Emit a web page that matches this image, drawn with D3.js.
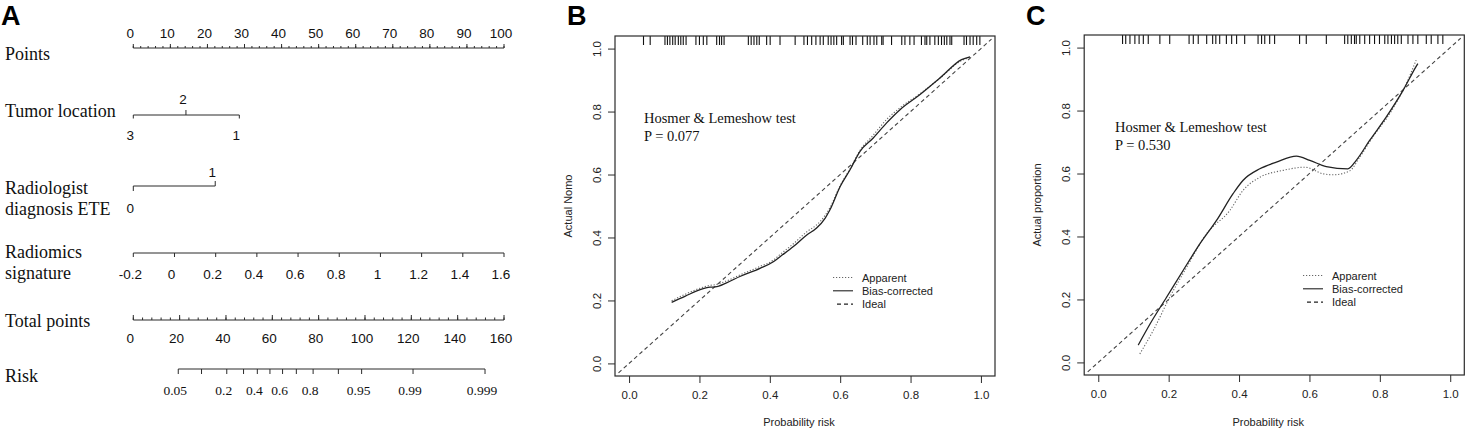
<!DOCTYPE html>
<html>
<head>
<meta charset="utf-8">
<script src="https://cdn.jsdelivr.net/npm/d3@7"></script>
<style>
  body { margin: 0; background: #fff; }
  svg { display: block; }
  .serif { font-family: "Liberation Serif", "Times New Roman", serif; }
  .sans { font-family: "Liberation Sans", Arial, sans-serif; }
</style>
</head>
<body>
<svg width="1465" height="431"></svg>
<script>
// ---------- panel A: nomogram
const pointsLabels = [0, 10, 20, 30, 40, 50, 60, 70, 80, 90, 100]
const tumorLevels = ["3", "2", "1"]
const tumorPoints = [0, 14.2, 28.6]
const eteLevels = ["0", "1"]
const etePoints = [0, 22.1]
const radiomicsTicks = [-0.2, 0, 0.2, 0.4, 0.6, 0.8, 1, 1.2, 1.4, 1.6]
const totalLabels = [0, 20, 40, 60, 80, 100, 120, 140, 160]
const riskTicks = [0.05, 0.1, 0.2, 0.3, 0.4, 0.5, 0.6, 0.7, 0.8, 0.9, 0.95, 0.99, 0.999]
const riskLabels = [0.05, 0.2, 0.4, 0.6, 0.8, 0.95, 0.99, 0.999]
const RISK_INTERCEPT = -4.388
const RISK_SLOPE = 0.0744

// ---------- panel B: calibration, training
const probB = [0.121, 0.16, 0.202, 0.23, 0.245, 0.277, 0.315, 0.372, 0.41, 0.429, 0.467, 0.505, 0.533,
  0.557, 0.571, 0.6, 0.628, 0.656, 0.694, 0.732, 0.77, 0.827, 0.884, 0.945, 0.969]
const biasB = [0.194, 0.214, 0.234, 0.242, 0.243, 0.256, 0.276, 0.302, 0.323, 0.339, 0.371, 0.408, 0.43,
  0.461, 0.488, 0.562, 0.615, 0.673, 0.716, 0.764, 0.806, 0.854, 0.907, 0.965, 0.974]
const apparentB = [0.199, 0.22, 0.239, 0.248, 0.25, 0.262, 0.281, 0.308, 0.328, 0.346, 0.38, 0.418, 0.44,
  0.47, 0.495, 0.565, 0.618, 0.676, 0.725, 0.775, 0.812, 0.857, 0.906, 0.962, 0.972]
const rugB = [0.041, 0.06, 0.102, 0.109, 0.116, 0.124, 0.131, 0.14, 0.147, 0.154, 0.162, 0.19, 0.2, 0.211,
  0.221, 0.249, 0.257, 0.263, 0.27, 0.339, 0.347, 0.355, 0.363, 0.37, 0.391, 0.401, 0.429, 0.472, 0.497,
  0.507, 0.519, 0.531, 0.543, 0.552, 0.566, 0.574, 0.582, 0.59, 0.604, 0.609, 0.628, 0.635, 0.645, 0.664,
  0.677, 0.685, 0.696, 0.704, 0.718, 0.722, 0.746, 0.775, 0.784, 0.798, 0.81, 0.831, 0.841, 0.846, 0.855,
  0.869, 0.879, 0.888, 0.896, 0.903, 0.912, 0.917, 0.952, 0.959, 0.969, 0.978, 0.988, 0.997]

// ---------- panel C: calibration, validation
const probBiasC = [0.1135, 0.147, 0.194, 0.241, 0.289, 0.336, 0.383, 0.411, 0.459, 0.506, 0.563, 0.601,
  0.648, 0.709, 0.733, 0.771, 0.818, 0.866, 0.902, 0.908]
const biasC = [0.055, 0.122, 0.207, 0.292, 0.377, 0.451, 0.536, 0.578, 0.615, 0.636, 0.655, 0.642,
  0.622, 0.615, 0.642, 0.705, 0.779, 0.864, 0.938, 0.949]
const probAppC = [0.118, 0.156, 0.203, 0.251, 0.307, 0.374, 0.411, 0.459, 0.525, 0.587, 0.639, 0.667,
  0.714, 0.743, 0.78, 0.828, 0.875, 0.903]
const apparentC = [0.027, 0.101, 0.207, 0.302, 0.408, 0.483, 0.546, 0.588, 0.61, 0.62, 0.599, 0.596,
  0.608, 0.652, 0.716, 0.79, 0.885, 0.96]
const rugC = [0.069, 0.078, 0.09, 0.104, 0.116, 0.128, 0.142, 0.175, 0.203, 0.258, 0.27, 0.284, 0.308,
  0.325, 0.334, 0.345, 0.364, 0.379, 0.393, 0.416, 0.454, 0.464, 0.473, 0.487, 0.501, 0.572, 0.591, 0.648,
  0.7, 0.709, 0.719, 0.728, 0.733, 0.743, 0.757, 0.771, 0.785, 0.799, 0.814, 0.823, 0.833, 0.842, 0.851,
  0.861, 0.88, 0.894, 0.908, 0.932, 0.946, 0.965, 0.979]

const calibTicks = [0, 0.2, 0.4, 0.6, 0.8, 1]
const INK = "#2b2b2b"

const svg = d3.select("svg")

const panelLetter = (text, x) => {
  svg.append("text").attr("class", "sans").attr("x", x).attr("y", 25)
    .attr("font-size", 27).attr("font-weight", "bold").attr("fill", "#000").text(text)
}

// ================= nomogram =================
const gA = svg.append("g")
const pts = d3.scaleLinear().domain([0, 100]).range([133.3, 504])
const total = d3.scaleLinear().domain([0, 160]).range([133.3, 504])
const radiomics = d3.scaleLinear().domain([-0.2, 1.6]).range([pts(0), pts(100)])
const logit = (p) => Math.log(p / (1 - p))
const riskX = (p) => total((logit(p) - RISK_INTERCEPT) / RISK_SLOPE)

const rowLabel = (lines, y0) => {
  lines.forEach((t, i) => {
    gA.append("text").attr("class", "serif").attr("x", 5).attr("y", y0 + i * 21)
      .attr("font-size", 18).attr("fill", "#111").text(t)
  })
}

const hline = (x1, x2, y) => {
  gA.append("line").attr("x1", x1).attr("x2", x2).attr("y1", y).attr("y2", y)
    .attr("stroke", INK).attr("stroke-width", 1)
}

const ticks = (xs, y, len) => {
  gA.append("g").selectAll("line").data(xs).join("line")
    .attr("x1", (d) => d).attr("x2", (d) => d)
    .attr("y1", y).attr("y2", y + len)
    .attr("stroke", INK).attr("stroke-width", 1)
}

const labels = (items, y, cls, size) => {
  gA.append("g").selectAll("text").data(items).join("text")
    .attr("class", cls).attr("font-size", size).attr("fill", "#111")
    .attr("text-anchor", "middle")
    .attr("x", (d) => d.x - 3).attr("y", y)
    .text((d) => d.t)
}

// Points
const yPoints = 48
rowLabel(["Points"], 60)
hline(pts(0), pts(100), yPoints)
ticks(d3.range(0, 101, 2).map(pts), yPoints, -2)
ticks(pointsLabels.map(pts), yPoints, -4)
labels(pointsLabels.map((v) => ({ x: pts(v), t: v })), 38, "sans", 13.5)

// Tumor location
const yTumor = 115
rowLabel(["Tumor location"], 117)
hline(pts(d3.min(tumorPoints)), pts(d3.max(tumorPoints)), yTumor)
tumorPoints.forEach((p, i) => {
  const up = i % 2 === 1
  ticks([pts(p)], yTumor, up ? -5 : 3.5)
  labels([{ x: pts(p), t: tumorLevels[i] }], up ? 103.5 : 139.5, "sans", 13.5)
})

// Radiologist diagnosis ETE
const yEte = 186
rowLabel(["Radiologist", "diagnosis ETE"], 194)
hline(pts(d3.min(etePoints)), pts(d3.max(etePoints)), yEte)
etePoints.forEach((p, i) => {
  const up = i % 2 === 1
  ticks([pts(p)], yEte, up ? -5 : 5)
  labels([{ x: pts(p), t: eteLevels[i] }], up ? 177 : 212.5, "sans", 13.5)
})

// Radiomics signature
const yRad = 253
rowLabel(["Radiomics", "signature"], 257.5)
hline(radiomics(-0.2), radiomics(1.6), yRad)
ticks(radiomicsTicks.map(radiomics), yRad, 4)
labels(radiomicsTicks.map((v) => ({ x: radiomics(v), t: String(+v.toFixed(1)) })), 278.5, "sans", 13.5)

// Total points
const yTotal = 320
rowLabel(["Total points"], 327)
hline(total(0), total(160), yTotal)
ticks(d3.range(0, 161, 4).map(total), yTotal, -2.5)
ticks(totalLabels.map(total), yTotal, -5)
labels(totalLabels.map((v) => ({ x: total(v), t: v })), 343, "sans", 13.5)

// Risk
const yRisk = 369
rowLabel(["Risk"], 382)
hline(riskX(d3.min(riskTicks)), riskX(d3.max(riskTicks)), yRisk)
ticks(riskTicks.map(riskX), yRisk, 5)
labels(riskLabels.map((v) => ({ x: riskX(v), t: v })), 395, "serif", 13.5)

panelLetter("A", 1)

// ================= calibration panels =================
const calibPanel = (cfg) => {
  const { box } = cfg
  const x = d3.scaleLinear().domain([-0.04, 1.04]).range([box.left, box.right])
  const y = d3.scaleLinear().domain([-0.04, 1.04]).range([box.bottom, box.top])
  const g = svg.append("g")

  // rug of predicted probabilities
  g.append("g").selectAll("line").data(cfg.rug).join("line")
    .attr("x1", (d) => x(d)).attr("x2", (d) => x(d))
    .attr("y1", box.top).attr("y2", box.top + 9)
    .attr("stroke", "#111").attr("stroke-width", 1.1)

  // ideal
  g.append("line")
    .attr("x1", x(-0.03)).attr("y1", y(-0.03)).attr("x2", x(1.03)).attr("y2", y(1.03))
    .attr("stroke", "#444").attr("stroke-width", 1.1).attr("stroke-dasharray", "4,3")

  const line = d3.line().x((d) => x(d[0])).y((d) => y(d[1])).curve(d3.curveMonotoneX)
  g.append("path").datum(d3.zip(cfg.appX, cfg.app)).attr("d", line)
    .attr("fill", "none").attr("stroke", "#666").attr("stroke-width", 1.1).attr("stroke-dasharray", "1.2,1.8")
  g.append("path").datum(d3.zip(cfg.biasX, cfg.bias)).attr("d", line)
    .attr("fill", "none").attr("stroke", "#222").attr("stroke-width", 1.3)

  g.append("rect")
    .attr("x", box.left).attr("y", box.top)
    .attr("width", box.right - box.left).attr("height", box.bottom - box.top)
    .attr("fill", "none").attr("stroke", INK).attr("stroke-width", 1.2)

  const xAxis = d3.axisBottom(x).tickValues(calibTicks).tickSize(7).tickSizeOuter(0)
    .tickPadding(8).tickFormat(d3.format(".1f"))
  g.append("g").attr("transform", `translate(0,${box.bottom})`).call(xAxis)
    .call((a) => a.select(".domain").remove())
    .call((a) => a.selectAll("line").attr("stroke", INK))
    .call((a) => a.selectAll("text").attr("class", "sans").attr("font-size", 11.5).attr("fill", "#222"))
    .attr("font-family", null).attr("font-size", null)

  const yAxis = d3.axisLeft(y).tickValues(calibTicks).tickSize(7).tickSizeOuter(0)
    .tickFormat(d3.format(".1f"))
  g.append("g").attr("transform", `translate(${box.left},0)`).call(yAxis)
    .call((a) => a.select(".domain").remove())
    .call((a) => a.selectAll("line").attr("stroke", INK))
    .call((a) => a.selectAll("text")
      .attr("x", null).attr("dy", null)
      .attr("transform", "translate(-14.5,0) rotate(-90)")
      .attr("text-anchor", "middle")
      .attr("class", "sans").attr("font-size", 11.5).attr("fill", "#222"))
    .attr("font-family", null).attr("font-size", null)

  g.append("text").attr("class", "sans").attr("font-size", 11).attr("fill", "#222")
    .attr("text-anchor", "middle")
    .attr("x", (box.left + box.right) / 2 - 6).attr("y", 426)
    .text("Probability risk")
  g.append("text").attr("class", "sans").attr("font-size", 11).attr("fill", "#222")
    .attr("text-anchor", "middle")
    .attr("transform", `translate(${box.left - 43},${(box.top + box.bottom) / 2}) rotate(-90)`)
    .text(cfg.yTitle)

  g.append("text").attr("class", "serif").attr("font-size", 14.5).attr("fill", "#111")
    .attr("x", cfg.hl.x).attr("y", cfg.hl.y).text("Hosmer & Lemeshow test")
  g.append("text").attr("class", "serif").attr("font-size", 14.5).attr("fill", "#111")
    .attr("x", cfg.hl.x).attr("y", cfg.hl.y + 18).text(`P = ${cfg.p}`)

  const legendItems = [
    { label: "Apparent", dash: "1.2,1.8", color: "#666", w: 1.1 },
    { label: "Bias-corrected", dash: null, color: "#222", w: 1.1 },
    { label: "Ideal", dash: "4,3", color: "#222", w: 1.1 }
  ]
  const lg = g.append("g").attr("transform", `translate(${cfg.legend.x},${cfg.legend.y})`)
  const rows = lg.selectAll("g").data(legendItems).join("g")
    .attr("transform", (d, i) => `translate(0,${i * 13.3})`)
  rows.append("line").attr("x1", (d, i) => (i === 2 ? 4 : 0)).attr("x2", 20).attr("y1", 0).attr("y2", 0)
    .attr("stroke", (d) => d.color).attr("stroke-width", (d) => d.w)
    .attr("stroke-dasharray", (d) => d.dash)
  rows.append("text").attr("class", "sans").attr("font-size", 11).attr("fill", "#222")
    .attr("x", 29).attr("y", 4).text((d) => d.label)
}

calibPanel({
  box: { left: 615, right: 995, top: 36, bottom: 376 },
  rug: rugB, appX: probB, app: apparentB, biasX: probB, bias: biasB,
  yTitle: "Actual Nomo", p: "0.077",
  hl: { x: 644, y: 123 }, legend: { x: 833, y: 277.5 }
})
panelLetter("B", 567)

calibPanel({
  box: { left: 1084.2, right: 1464.3, top: 35, bottom: 375 },
  rug: rugC, appX: probAppC, app: apparentC, biasX: probBiasC, bias: biasC,
  yTitle: "Actual proportion", p: "0.530",
  hl: { x: 1115, y: 131.5 }, legend: { x: 1303, y: 275.5 }
})
panelLetter("C", 1026)
</script>
</body>
</html>
